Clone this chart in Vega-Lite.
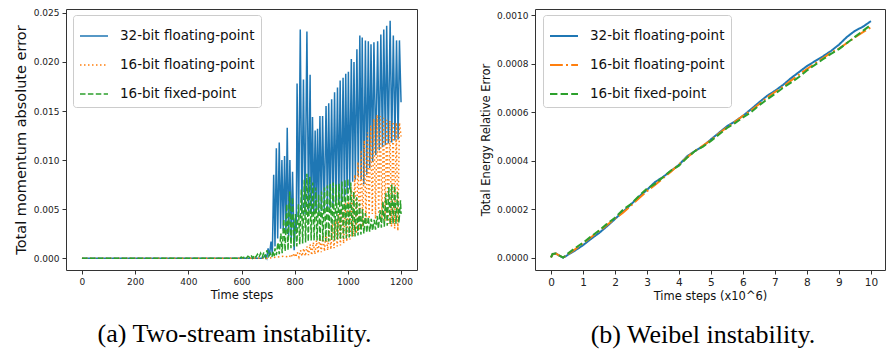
{
 "$schema": "https://vega.github.io/schema/vega-lite/v6.json",
 "autosize": {"type": "none"},
 "padding": {"left": 66, "top": 9, "right": 820, "bottom": 343},
 "background": "white",
 "config": {
  "view": {"stroke": "#333", "strokeWidth": 1},
  "axis": {"domain": false, "grid": false, "tickColor": "#333", "tickSize": 4, "labelFont": "DejaVu Sans", "labelColor": "#222", "labelFontSize": 9, "labelPadding": 3, "titleFont": "DejaVu Sans", "titleFontWeight": "normal", "titleColor": "#111", "titleFontSize": 11.5, "titlePadding": 3},
  "legend": {"orient": "none", "legendY": 6, "strokeColor": "#cccccc", "fillColor": "rgba(255,255,255,0.85)", "cornerRadius": 3, "padding": 6, "labelFont": "DejaVu Sans", "labelFontSize": 13.5, "labelColor": "#111", "symbolType": "stroke", "symbolSize": 784, "rowPadding": 7, "labelOffset": 11}
 },
 "datasets": {
  "left": [
   {"s":"a","t":0,"v":0},{"s":"a","t":600,"v":0},{"s":"a","t":680,"v":0},{"s":"a","t":690,"v":0.0003},{"s":"a","t":695,"v":0},{"s":"a","t":700,"v":0.0010},{"s":"a","t":705,"v":0.0002},{"s":"a","t":711,"v":0.0017},{"s":"a","t":716,"v":0.0004},{"s":"a","t":721,"v":0.0085},{"s":"a","t":726,"v":0.0012},{"s":"a","t":731,"v":0.0112},{"s":"a","t":736,"v":0.0020},{"s":"a","t":742,"v":0.0118},{"s":"a","t":747,"v":0.0030},{"s":"a","t":752,"v":0.0100},{"s":"a","t":757,"v":0.0028},{"s":"a","t":762,"v":0.0104},{"s":"a","t":767,"v":0.0025},{"s":"a","t":772,"v":0.0133},{"s":"a","t":777,"v":0.0022},{"s":"a","t":782,"v":0.0100},{"s":"a","t":787,"v":0.0018},{"s":"a","t":792,"v":0.0088},{"s":"a","t":798,"v":0.0008},{"s":"a","t":803,"v":0.0040},{"s":"a","t":806,"v":0.0030},{"s":"a","t":809,"v":0.0178},{"s":"a","t":815,"v":0.0042},{"s":"a","t":821,"v":0.0233},{"s":"a","t":827,"v":0.0045},{"s":"a","t":833,"v":0.0182},{"s":"a","t":839,"v":0.0045},{"s":"a","t":846,"v":0.0231},{"s":"a","t":852,"v":0.0048},{"s":"a","t":858,"v":0.0187},{"s":"a","t":862,"v":0.0045},{"s":"a","t":867,"v":0.0144},{"s":"a","t":872,"v":0.0046},{"s":"a","t":877,"v":0.0130},{"s":"a","t":881,"v":0.0047},{"s":"a","t":886,"v":0.0132},{"s":"a","t":890,"v":0.0047},{"s":"a","t":895,"v":0.0145},{"s":"a","t":900,"v":0.0048},{"s":"a","t":905,"v":0.0145},{"s":"a","t":911,"v":0.0049},{"s":"a","t":918,"v":0.0155},{"s":"a","t":923,"v":0.0050},{"s":"a","t":928,"v":0.0158},{"s":"a","t":933,"v":0.0051},{"s":"a","t":939,"v":0.0162},{"s":"a","t":944,"v":0.0052},{"s":"a","t":950,"v":0.0169},{"s":"a","t":955,"v":0.0054},{"s":"a","t":961,"v":0.0174},{"s":"a","t":966,"v":0.0056},{"s":"a","t":971,"v":0.0181},{"s":"a","t":976,"v":0.0058},{"s":"a","t":982,"v":0.0184},{"s":"a","t":987,"v":0.0061},{"s":"a","t":992,"v":0.0188},{"s":"a","t":997,"v":0.0065},{"s":"a","t":1002,"v":0.0190},{"s":"a","t":1007,"v":0.0070},{"s":"a","t":1013,"v":0.0203},{"s":"a","t":1018,"v":0.0078},{"s":"a","t":1023,"v":0.0200},{"s":"a","t":1028,"v":0.0080},{"s":"a","t":1034,"v":0.0213},{"s":"a","t":1039,"v":0.0084},{"s":"a","t":1045,"v":0.0227},{"s":"a","t":1050,"v":0.0080},{"s":"a","t":1054,"v":0.0225},{"s":"a","t":1060,"v":0.0075},{"s":"a","t":1066,"v":0.0222},{"s":"a","t":1071,"v":0.0085},{"s":"a","t":1077,"v":0.0221},{"s":"a","t":1082,"v":0.0092},{"s":"a","t":1087,"v":0.0218},{"s":"a","t":1093,"v":0.0098},{"s":"a","t":1098,"v":0.0220},{"s":"a","t":1105,"v":0.0105},{"s":"a","t":1112,"v":0.0221},{"s":"a","t":1118,"v":0.0110},{"s":"a","t":1124,"v":0.0228},{"s":"a","t":1130,"v":0.0113},{"s":"a","t":1135,"v":0.0233},{"s":"a","t":1141,"v":0.0115},{"s":"a","t":1146,"v":0.0237},{"s":"a","t":1152,"v":0.0117},{"s":"a","t":1159,"v":0.0242},{"s":"a","t":1165,"v":0.0118},{"s":"a","t":1171,"v":0.0227},{"s":"a","t":1177,"v":0.0120},{"s":"a","t":1183,"v":0.0222},{"s":"a","t":1189,"v":0.0121},{"s":"a","t":1194,"v":0.0222},{"s":"a","t":1200,"v":0.0159},
   {"s":"b","t":0,"v":0},{"s":"b","t":700,"v":0},{"s":"b","t":730,"v":0.0001},{"s":"b","t":760,"v":0.0002},{"s":"b","t":780,"v":0.0001},{"s":"b","t":786,"v":0.0004},{"s":"b","t":792,"v":0.0001},{"s":"b","t":798,"v":0.0005},{"s":"b","t":804,"v":0.0001},{"s":"b","t":810,"v":0.0006},{"s":"b","t":816,"v":0.0001},{"s":"b","t":822,"v":0.0008},{"s":"b","t":828,"v":0.0002},{"s":"b","t":834,"v":0.0010},{"s":"b","t":840,"v":0.0002},{"s":"b","t":846,"v":0.0012},{"s":"b","t":852,"v":0.0003},{"s":"b","t":858,"v":0.0014},{"s":"b","t":864,"v":0.0003},{"s":"b","t":870,"v":0.0016},{"s":"b","t":876,"v":0.0004},{"s":"b","t":882,"v":0.0018},{"s":"b","t":888,"v":0.0005},{"s":"b","t":894,"v":0.0021},{"s":"b","t":900,"v":0.0006},{"s":"b","t":906,"v":0.0024},{"s":"b","t":912,"v":0.0007},{"s":"b","t":918,"v":0.0027},{"s":"b","t":924,"v":0.0008},{"s":"b","t":930,"v":0.0031},{"s":"b","t":936,"v":0.0009},{"s":"b","t":942,"v":0.0035},{"s":"b","t":948,"v":0.0010},{"s":"b","t":954,"v":0.0040},{"s":"b","t":960,"v":0.0012},{"s":"b","t":966,"v":0.0045},{"s":"b","t":972,"v":0.0013},{"s":"b","t":978,"v":0.0050},{"s":"b","t":984,"v":0.0015},{"s":"b","t":990,"v":0.0056},{"s":"b","t":996,"v":0.0017},{"s":"b","t":1002,"v":0.0062},{"s":"b","t":1008,"v":0.0019},{"s":"b","t":1014,"v":0.0072},{"s":"b","t":1020,"v":0.0022},{"s":"b","t":1026,"v":0.0085},{"s":"b","t":1032,"v":0.0025},{"s":"b","t":1038,"v":0.0098},{"s":"b","t":1044,"v":0.0028},{"s":"b","t":1050,"v":0.0110},{"s":"b","t":1056,"v":0.0032},{"s":"b","t":1062,"v":0.0120},{"s":"b","t":1068,"v":0.0035},{"s":"b","t":1074,"v":0.0128},{"s":"b","t":1080,"v":0.0040},{"s":"b","t":1086,"v":0.0135},{"s":"b","t":1092,"v":0.0045},{"s":"b","t":1098,"v":0.0142},{"s":"b","t":1104,"v":0.0040},{"s":"b","t":1110,"v":0.0146},{"s":"b","t":1116,"v":0.0045},{"s":"b","t":1122,"v":0.0145},{"s":"b","t":1128,"v":0.0040},{"s":"b","t":1134,"v":0.0143},{"s":"b","t":1140,"v":0.0038},{"s":"b","t":1146,"v":0.0141},{"s":"b","t":1152,"v":0.0035},{"s":"b","t":1158,"v":0.0140},{"s":"b","t":1164,"v":0.0032},{"s":"b","t":1170,"v":0.0139},{"s":"b","t":1176,"v":0.0030},{"s":"b","t":1182,"v":0.0138},{"s":"b","t":1188,"v":0.0028},{"s":"b","t":1194,"v":0.0138},{"s":"b","t":1200,"v":0.0124},
   {"s":"c","t":0,"v":0},{"s":"c","t":590,"v":0},{"s":"c","t":600,"v":0.0001},{"s":"c","t":606,"v":0},{"s":"c","t":612,"v":0.0002},{"s":"c","t":618,"v":0},{"s":"c","t":624,"v":0.0002},{"s":"c","t":630,"v":0.0001},{"s":"c","t":636,"v":0.0003},{"s":"c","t":642,"v":0},{"s":"c","t":648,"v":0.0003},{"s":"c","t":654,"v":0.0001},{"s":"c","t":660,"v":0.0004},{"s":"c","t":666,"v":0.0001},{"s":"c","t":672,"v":0.0005},{"s":"c","t":678,"v":0.0001},{"s":"c","t":684,"v":0.0006},{"s":"c","t":690,"v":0.0001},{"s":"c","t":696,"v":0.0008},{"s":"c","t":702,"v":0.0002},{"s":"c","t":708,"v":0.0005},{"s":"c","t":714,"v":0.0001},{"s":"c","t":720,"v":0.0007},{"s":"c","t":723,"v":0.0002},{"s":"c","t":726,"v":0.0010},{"s":"c","t":731,"v":0.0003},{"s":"c","t":737,"v":0.0016},{"s":"c","t":742,"v":0.0004},{"s":"c","t":748,"v":0.0025},{"s":"c","t":753,"v":0.0005},{"s":"c","t":759,"v":0.0040},{"s":"c","t":764,"v":0.0007},{"s":"c","t":770,"v":0.0055},{"s":"c","t":775,"v":0.0008},{"s":"c","t":781,"v":0.0068},{"s":"c","t":786,"v":0.0010},{"s":"c","t":792,"v":0.0062},{"s":"c","t":797,"v":0.0012},{"s":"c","t":803,"v":0.0045},{"s":"c","t":808,"v":0.0012},{"s":"c","t":814,"v":0.0055},{"s":"c","t":819,"v":0.0014},{"s":"c","t":825,"v":0.0070},{"s":"c","t":830,"v":0.0015},{"s":"c","t":836,"v":0.0080},{"s":"c","t":841,"v":0.0016},{"s":"c","t":846,"v":0.0086},{"s":"c","t":851,"v":0.0017},{"s":"c","t":857,"v":0.0083},{"s":"c","t":862,"v":0.0018},{"s":"c","t":868,"v":0.0077},{"s":"c","t":873,"v":0.0018},{"s":"c","t":879,"v":0.0072},{"s":"c","t":884,"v":0.0018},{"s":"c","t":890,"v":0.0065},{"s":"c","t":895,"v":0.0017},{"s":"c","t":901,"v":0.0068},{"s":"c","t":906,"v":0.0017},{"s":"c","t":912,"v":0.0072},{"s":"c","t":917,"v":0.0017},{"s":"c","t":923,"v":0.0074},{"s":"c","t":928,"v":0.0017},{"s":"c","t":934,"v":0.0076},{"s":"c","t":939,"v":0.0018},{"s":"c","t":945,"v":0.0077},{"s":"c","t":950,"v":0.0018},{"s":"c","t":956,"v":0.0075},{"s":"c","t":961,"v":0.0019},{"s":"c","t":967,"v":0.0076},{"s":"c","t":972,"v":0.0019},{"s":"c","t":978,"v":0.0078},{"s":"c","t":983,"v":0.0020},{"s":"c","t":989,"v":0.0080},{"s":"c","t":994,"v":0.0020},{"s":"c","t":1000,"v":0.0081},{"s":"c","t":1005,"v":0.0021},{"s":"c","t":1011,"v":0.0077},{"s":"c","t":1016,"v":0.0022},{"s":"c","t":1022,"v":0.0068},{"s":"c","t":1027,"v":0.0022},{"s":"c","t":1033,"v":0.0062},{"s":"c","t":1038,"v":0.0023},{"s":"c","t":1044,"v":0.0056},{"s":"c","t":1049,"v":0.0024},{"s":"c","t":1055,"v":0.0050},{"s":"c","t":1060,"v":0.0025},{"s":"c","t":1066,"v":0.0046},{"s":"c","t":1071,"v":0.0026},{"s":"c","t":1077,"v":0.0042},{"s":"c","t":1082,"v":0.0027},{"s":"c","t":1088,"v":0.0040},{"s":"c","t":1093,"v":0.0028},{"s":"c","t":1099,"v":0.0039},{"s":"c","t":1104,"v":0.0029},{"s":"c","t":1110,"v":0.0043},{"s":"c","t":1115,"v":0.0030},{"s":"c","t":1121,"v":0.0049},{"s":"c","t":1126,"v":0.0031},{"s":"c","t":1132,"v":0.0058},{"s":"c","t":1137,"v":0.0032},{"s":"c","t":1143,"v":0.0066},{"s":"c","t":1148,"v":0.0033},{"s":"c","t":1154,"v":0.0072},{"s":"c","t":1159,"v":0.0034},{"s":"c","t":1165,"v":0.0075},{"s":"c","t":1170,"v":0.0035},{"s":"c","t":1176,"v":0.0074},{"s":"c","t":1181,"v":0.0035},{"s":"c","t":1187,"v":0.0068},{"s":"c","t":1192,"v":0.0036},{"s":"c","t":1198,"v":0.0059},{"s":"c","t":1200,"v":0.0045}
  ],
  "right": [
   {"s":"a","t":0,"v":0.000002},{"s":"a","t":0.05,"v":0.000015},{"s":"a","t":0.15,"v":0.000018},{"s":"a","t":0.25,"v":0.00001},{"s":"a","t":0.38,"v":0.000001},{"s":"a","t":0.5,"v":0.00001},{"s":"a","t":0.75,"v":0.00003},{"s":"a","t":1,"v":0.000052},{"s":"a","t":1.25,"v":0.000078},{"s":"a","t":1.5,"v":0.000102},{"s":"a","t":1.75,"v":0.00013},{"s":"a","t":2,"v":0.00016},{"s":"a","t":2.25,"v":0.00019},{"s":"a","t":2.5,"v":0.00022},{"s":"a","t":2.75,"v":0.000252},{"s":"a","t":3,"v":0.00028},{"s":"a","t":3.25,"v":0.000312},{"s":"a","t":3.5,"v":0.000333},{"s":"a","t":3.75,"v":0.000358},{"s":"a","t":4,"v":0.000383},{"s":"a","t":4.25,"v":0.000418},{"s":"a","t":4.5,"v":0.00044},{"s":"a","t":4.75,"v":0.00046},{"s":"a","t":5,"v":0.000488},{"s":"a","t":5.25,"v":0.000515},{"s":"a","t":5.5,"v":0.000542},{"s":"a","t":5.75,"v":0.000562},{"s":"a","t":6,"v":0.000585},{"s":"a","t":6.25,"v":0.000612},{"s":"a","t":6.5,"v":0.00064},{"s":"a","t":6.75,"v":0.000667},{"s":"a","t":7,"v":0.000688},{"s":"a","t":7.25,"v":0.000712},{"s":"a","t":7.5,"v":0.00074},{"s":"a","t":7.75,"v":0.000765},{"s":"a","t":8,"v":0.00079},{"s":"a","t":8.25,"v":0.00081},{"s":"a","t":8.5,"v":0.00083},{"s":"a","t":8.75,"v":0.000852},{"s":"a","t":9,"v":0.000878},{"s":"a","t":9.25,"v":0.00091},{"s":"a","t":9.5,"v":0.000935},{"s":"a","t":9.75,"v":0.000952},{"s":"a","t":10,"v":0.000975},
   {"s":"b","t":0,"v":0.000002},{"s":"b","t":0.05,"v":0.000015},{"s":"b","t":0.15,"v":0.000018},{"s":"b","t":0.25,"v":0.00001},{"s":"b","t":0.38,"v":0.000001},{"s":"b","t":0.5,"v":0.000012},{"s":"b","t":0.75,"v":0.000035},{"s":"b","t":1,"v":0.00006},{"s":"b","t":1.25,"v":0.000085},{"s":"b","t":1.5,"v":0.00011},{"s":"b","t":1.75,"v":0.000135},{"s":"b","t":2,"v":0.000162},{"s":"b","t":2.25,"v":0.000186},{"s":"b","t":2.5,"v":0.000215},{"s":"b","t":2.75,"v":0.000245},{"s":"b","t":3,"v":0.000275},{"s":"b","t":3.25,"v":0.0003},{"s":"b","t":3.5,"v":0.000328},{"s":"b","t":3.75,"v":0.000355},{"s":"b","t":4,"v":0.000385},{"s":"b","t":4.25,"v":0.000413},{"s":"b","t":4.5,"v":0.00044},{"s":"b","t":4.75,"v":0.000462},{"s":"b","t":5,"v":0.000485},{"s":"b","t":5.25,"v":0.000512},{"s":"b","t":5.5,"v":0.000538},{"s":"b","t":5.75,"v":0.00056},{"s":"b","t":6,"v":0.000585},{"s":"b","t":6.25,"v":0.000607},{"s":"b","t":6.5,"v":0.000633},{"s":"b","t":6.75,"v":0.00066},{"s":"b","t":7,"v":0.000683},{"s":"b","t":7.25,"v":0.000705},{"s":"b","t":7.5,"v":0.00073},{"s":"b","t":7.75,"v":0.000755},{"s":"b","t":8,"v":0.000778},{"s":"b","t":8.25,"v":0.0008},{"s":"b","t":8.5,"v":0.000822},{"s":"b","t":8.75,"v":0.000845},{"s":"b","t":9,"v":0.000862},{"s":"b","t":9.25,"v":0.000885},{"s":"b","t":9.5,"v":0.000908},{"s":"b","t":9.75,"v":0.00093},{"s":"b","t":10,"v":0.00095},
   {"s":"c","t":0,"v":0.000002},{"s":"c","t":0.05,"v":0.000016},{"s":"c","t":0.15,"v":0.000018},{"s":"c","t":0.25,"v":0.00001},{"s":"c","t":0.38,"v":0.000001},{"s":"c","t":0.5,"v":0.000015},{"s":"c","t":0.75,"v":0.00004},{"s":"c","t":1,"v":0.000062},{"s":"c","t":1.25,"v":0.000088},{"s":"c","t":1.5,"v":0.000112},{"s":"c","t":1.75,"v":0.00014},{"s":"c","t":2,"v":0.000165},{"s":"c","t":2.25,"v":0.000198},{"s":"c","t":2.5,"v":0.000222},{"s":"c","t":2.75,"v":0.000255},{"s":"c","t":3,"v":0.000285},{"s":"c","t":3.25,"v":0.000305},{"s":"c","t":3.5,"v":0.000332},{"s":"c","t":3.75,"v":0.00036},{"s":"c","t":4,"v":0.00038},{"s":"c","t":4.25,"v":0.000412},{"s":"c","t":4.5,"v":0.00044},{"s":"c","t":4.75,"v":0.000458},{"s":"c","t":5,"v":0.000482},{"s":"c","t":5.25,"v":0.000508},{"s":"c","t":5.5,"v":0.000535},{"s":"c","t":5.75,"v":0.000555},{"s":"c","t":6,"v":0.000578},{"s":"c","t":6.25,"v":0.0006},{"s":"c","t":6.5,"v":0.000628},{"s":"c","t":6.75,"v":0.000652},{"s":"c","t":7,"v":0.000675},{"s":"c","t":7.25,"v":0.0007},{"s":"c","t":7.5,"v":0.000722},{"s":"c","t":7.75,"v":0.000745},{"s":"c","t":8,"v":0.000772},{"s":"c","t":8.25,"v":0.000795},{"s":"c","t":8.5,"v":0.000818},{"s":"c","t":8.75,"v":0.00084},{"s":"c","t":9,"v":0.00086},{"s":"c","t":9.25,"v":0.000885},{"s":"c","t":9.5,"v":0.00091},{"s":"c","t":9.75,"v":0.000935},{"s":"c","t":10,"v":0.00096}
  ]
 },
 "spacing": 62,
 "resolve": {"scale": {"color": "independent", "strokeDash": "independent", "x": "independent", "y": "independent"}, "legend": {"color": "independent", "strokeDash": "independent"}},
 "hconcat": [
  {
   "width": 351, "height": 261,
   "data": {"name": "left"},
   "title": {"text": "(a) Two-stream instability.", "orient": "bottom", "frame": "group", "anchor": "middle", "font": "Liberation Serif", "fontSize": 26, "fontWeight": "normal", "color": "black", "offset": 20, "dx": -7},
   "mark": {"type": "line", "strokeWidth": 1.5, "clip": true},
   "encoding": {
    "x": {"field": "t", "type": "quantitative", "scale": {"domain": [-60, 1260], "nice": false, "zero": false}, "axis": {"values": [0, 200, 400, 600, 800, 1000, 1200], "format": "d", "title": "Time steps"}},
    "y": {"field": "v", "type": "quantitative", "scale": {"domain": [-0.00121, 0.0254], "nice": false, "zero": false}, "axis": {"values": [0, 0.005, 0.01, 0.015, 0.02, 0.025], "format": ".3f", "title": "Total momentum absolute error", "titleFontSize": 14.5, "titlePadding": 5}},
    "color": {"field": "s", "type": "nominal", "scale": {"domain": ["a", "b", "c"], "range": ["#1f77b4", "#ff7f0e", "#2ca02c"]}, "legend": {"title": null, "legendX": 7, "symbolStrokeWidth": 1.5, "labelExpr": "datum.value == 'a' ? '32-bit floating-point' : datum.value == 'b' ? '16-bit floating-point' : '16-bit fixed-point'"}},
    "strokeDash": {"field": "s", "type": "nominal", "scale": {"domain": ["a", "b", "c"], "range": [[1, 0], [1.5, 2.5], [5.5, 2.4]]}, "legend": {"title": null, "legendX": 7, "symbolStrokeWidth": 1.5, "labelExpr": "datum.value == 'a' ? '32-bit floating-point' : datum.value == 'b' ? '16-bit floating-point' : '16-bit fixed-point'"}}
   }
  },
  {
   "width": 350, "height": 261,
   "data": {"name": "right"},
   "title": {"text": "(b) Weibel instability.", "orient": "bottom", "frame": "group", "anchor": "middle", "font": "Liberation Serif", "fontSize": 26, "fontWeight": "normal", "color": "black", "offset": 20, "dx": -7},
   "mark": {"type": "line", "strokeWidth": 2, "clip": true},
   "encoding": {
    "x": {"field": "t", "type": "quantitative", "scale": {"domain": [-0.5, 10.44], "nice": false, "zero": false}, "axis": {"values": [0, 1, 2, 3, 4, 5, 6, 7, 8, 9, 10], "format": "d", "labelFontSize": 10.5, "title": "Time steps (x10^6)"}},
    "y": {"field": "v", "type": "quantitative", "scale": {"domain": [-0.00005, 0.001025], "nice": false, "zero": false}, "axis": {"values": [0, 0.0002, 0.0004, 0.0006, 0.0008, 0.001], "format": ".4f", "title": "Total Energy Relative Error", "titleFontSize": 11.5, "titlePadding": 5}},
    "color": {"field": "s", "type": "nominal", "scale": {"domain": ["a", "b", "c"], "range": ["#1f77b4", "#ff7f0e", "#2ca02c"]}, "legend": {"title": null, "legendX": 8, "symbolStrokeWidth": 2, "labelExpr": "datum.value == 'a' ? '32-bit floating-point' : datum.value == 'b' ? '16-bit floating-point' : '\u00a016-bit fixed-point'"}},
    "strokeDash": {"field": "s", "type": "nominal", "scale": {"domain": ["a", "b", "c"], "range": [[1, 0], [12.8, 3.2, 2, 3.2], [7.4, 3.2]]}, "legend": {"title": null, "legendX": 8, "symbolStrokeWidth": 2, "labelExpr": "datum.value == 'a' ? '32-bit floating-point' : datum.value == 'b' ? '16-bit floating-point' : '\u00a016-bit fixed-point'"}}
   }
  }
 ]
}
